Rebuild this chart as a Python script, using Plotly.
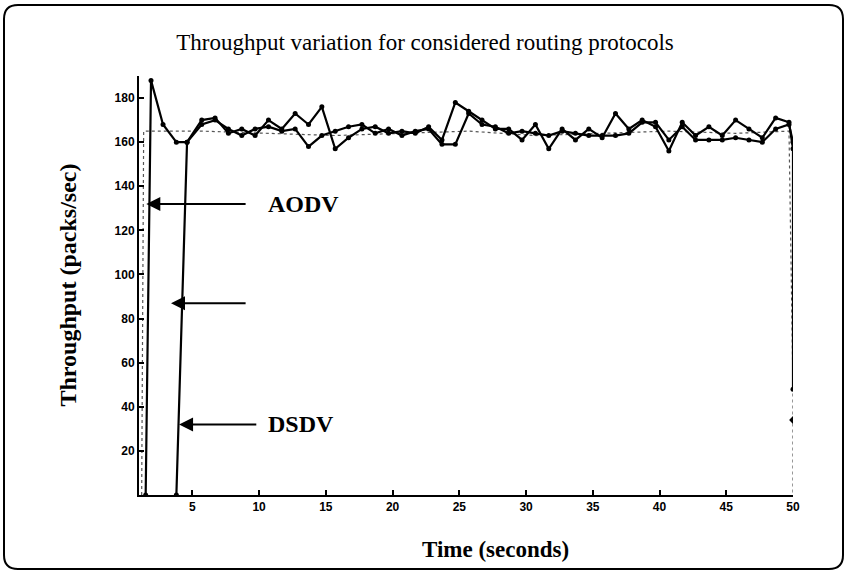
import plotly.graph_objects as go

# time stamps (seconds) of the plotted samples
t_band = [5.7, 6.7, 7.7, 8.7, 9.7, 10.7, 11.7, 12.7, 13.7, 14.7, 15.7, 16.7, 17.7,
          18.7, 19.7, 20.7, 21.7, 22.7, 23.7, 24.7, 25.7, 26.7, 27.7, 28.7, 29.7,
          30.7, 31.7, 32.7, 33.7, 34.7, 35.7, 36.7, 37.7, 38.7, 39.7, 40.7, 41.7,
          42.7, 43.7, 44.7, 45.7, 46.7, 47.7, 48.7, 49.7]

# AODV throughput (packs/sec)
aodv_t = [1.5, 1.9, 2.8, 3.8, 4.6] + t_band + [50.0]
aodv_y = [0, 188, 168, 160, 160,
          168, 170, 166, 163, 166, 167, 165, 166, 158, 163, 165, 167, 168,
          164, 166, 163, 165, 166, 159, 159, 173, 168, 167, 164, 165,
          164, 163, 165, 164, 163, 163, 163, 164, 169, 169, 161, 167,
          161, 161, 161, 162, 161, 160, 166, 168,
          160]

# DSDV throughput (packs/sec)
dsdv_t = [3.8, 4.6] + t_band + [50.0, 50.0]
dsdv_y = [0, 160,
          170, 171, 164, 166, 163, 170, 166, 173, 168, 176, 157, 162, 166,
          167, 164, 165, 164, 167, 161, 178, 174, 170, 166, 166, 161,
          168, 157, 166, 161, 166, 162, 173, 166, 170, 167, 156, 169,
          163, 167, 163, 170, 166, 162, 171, 169,
          157, 48]

# faint dotted trace (third protocol, label lost in the scan)
other_t = [1.2, 1.35, 5.7, 10.7, 15.7, 20.7, 25.7, 30.7, 35.7, 40.7, 45.7, 49.7, 50.0, 50.0, 50.0]
other_y = [0, 165, 165, 164, 163, 164, 165, 163, 164, 165, 164, 165, 48, 34, 0]

x_ticks = [5, 10, 15, 20, 25, 30, 35, 40, 45, 50]
y_ticks = [20, 40, 60, 80, 100, 120, 140, 160, 180]

W, H = 847, 573
L, R, T, B = 139, 54, 76, 78

fig = go.Figure()
fig.add_trace(go.Scatter(x=other_t, y=other_y, mode="lines", name="other",
                         line=dict(color="#555555", width=1.2, dash="dot")))
fig.add_trace(go.Scatter(x=aodv_t, y=aodv_y, mode="lines+markers", name="AODV",
                         line=dict(color="black", width=2.2),
                         marker=dict(color="black", size=5)))
fig.add_trace(go.Scatter(x=dsdv_t, y=dsdv_y, mode="lines+markers", name="DSDV",
                         line=dict(color="black", width=2.2),
                         marker=dict(color="black", size=5)))
fig.add_trace(go.Scatter(x=[50], y=[34], mode="markers", showlegend=False,
                         marker=dict(color="black", size=6, symbol="diamond")))


def px(xp):
    return (xp - L) / (W - L - R)


def py(yp):
    return (H - B - yp) / (H - T - B)


# rounded frame around the whole figure
x0, y0, x1, y1, r = 4, 5, 843, 569, 14
path = (f"M {px(x0 + r)},{py(y0)} L {px(x1 - r)},{py(y0)} "
        f"Q {px(x1)},{py(y0)} {px(x1)},{py(y0 + r)} "
        f"L {px(x1)},{py(y1 - r)} Q {px(x1)},{py(y1)} {px(x1 - r)},{py(y1)} "
        f"L {px(x0 + r)},{py(y1)} Q {px(x0)},{py(y1)} {px(x0)},{py(y1 - r)} "
        f"L {px(x0)},{py(y0 + r)} Q {px(x0)},{py(y0)} {px(x0 + r)},{py(y0)} Z")
fig.add_shape(type="path", path=path, xref="paper", yref="paper",
              line=dict(color="black", width=2))

serif = "Liberation Serif"
arrow = dict(showarrow=True, arrowhead=2, arrowsize=1.4, arrowwidth=2,
             arrowcolor="black", axref="x", ayref="y", text="", standoff=0)
fig.add_annotation(x=1.55, y=132, ax=9.1, ay=132, **arrow)
fig.add_annotation(x=3.4, y=87, ax=9.1, ay=87, **arrow)
fig.add_annotation(x=4.0, y=32, ax=9.9, ay=32, **arrow)

lab = dict(showarrow=False, xanchor="left", font=dict(family=serif, size=24, color="black", weight="bold"))
fig.add_annotation(x=10.5, y=132, text="AODV", **lab)
fig.add_annotation(x=10.5, y=32, text="DSDV", **lab)

fig.add_annotation(x=px(495), y=py(549), xref="paper", yref="paper", showarrow=False,
                   xanchor="center", yanchor="middle",
                   text="Time (seconds)", font=dict(family=serif, size=23, color="black", weight="bold"))
fig.add_annotation(x=px(67), y=0.5, xref="paper", yref="paper", showarrow=False, textangle=-90,
                   xanchor="center", yanchor="middle",
                   text="Throughput (packs/sec)", font=dict(family=serif, size=24, color="black", weight="bold"))

fig.update_layout(
    width=W, height=H,
    margin=dict(l=L, r=R, t=T, b=B),
    paper_bgcolor="white", plot_bgcolor="white",
    showlegend=False,
    title=dict(text="Throughput variation for considered routing protocols",
               x=425 / W, y=1 - 42 / H, xanchor="center", yanchor="middle",
               font=dict(family=serif, size=23, color="black")),
)
axis_common = dict(showgrid=False, zeroline=False, showline=True, linecolor="black", linewidth=2,
                   ticks="inside", ticklen=5, tickwidth=1.5, tickcolor="black",
                   tickfont=dict(family="Liberation Sans", size=12, color="black", weight="bold"))
fig.update_xaxes(range=[1, 50], tickvals=x_ticks, **axis_common)
fig.update_yaxes(range=[0, 190], tickvals=y_ticks, **axis_common)

# page margin off so the 847x573 figure fills the window exactly
fig.write_html("out.html", config={"displayModeBar": False},
               post_script="document.body.style.margin='0';")
